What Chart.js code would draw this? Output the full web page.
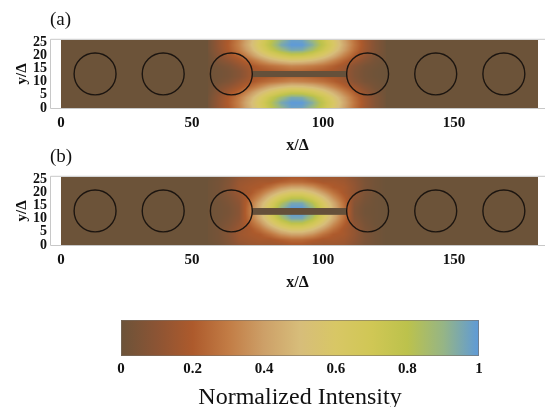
<!DOCTYPE html>
<html>
<head>
<meta charset="utf-8">
<script src="https://cdn.jsdelivr.net/npm/chart.js@4.4.0/dist/chart.umd.min.js"></script>
<style>
  body { margin: 0; background: #fff; }
  #wrap { position: relative; width: 545px; height: 407px; overflow: hidden; }
  .panel { position: absolute; left: 0; width: 545px; }
</style>
</head>
<body>
<div id="wrap">
  <div class="panel" style="top:0;height:155px"><canvas id="panelA"></canvas></div>
  <div class="panel" style="top:137px;height:155px"><canvas id="panelB"></canvas></div>
  <div class="panel" style="top:300px;height:107px"><canvas id="colorBar"></canvas></div>
</div>
<script>
// ---- data ----
const xTicks = [0, 50, 100, 150];
const yTicks = [0, 5, 10, 15, 20, 25];
const barTicks = [0, 0.2, 0.4, 0.6, 0.8, 1];
const barTickLabels = ['0', '0.2', '0.4', '0.6', '0.8', '1'];

// simulation domain (brown area)
const domainX = [0, 182];
const domainY = [0, 26];

// rods
const rodX = [13, 39, 65, 117, 143, 169];
const rodY = 13;
const rodRadius = 8;

// dark waveguide strip between the middle rods
const stripAX = [73, 109];
const stripAY = [11.8, 14.1];
const stripBX = [73, 109];
const stripBY = [11.5, 14.1];

// intensity samples (rows from top y=26 down to y=0), zero elsewhere
const gridX = [56, 60, 64, 68, 72, 76, 80, 84, 88, 92, 96, 100, 104, 108, 112, 116, 120, 124];
const gridY = [26, 24, 22, 20, 18, 16, 14, 12, 10, 8, 6, 4, 2, 0];

const intensityA = [
    [0.02,0.12,0.20,0.31,0.45,0.61,0.78,0.90,0.98,0.97,0.88,0.75,0.58,0.41,0.27,0.15,0.07,0.01],
    [0.02,0.12,0.21,0.32,0.47,0.64,0.81,0.95,1.00,1.00,0.93,0.78,0.61,0.43,0.28,0.16,0.07,0.01],
    [0.02,0.11,0.20,0.30,0.43,0.59,0.75,0.87,0.95,0.94,0.85,0.72,0.56,0.40,0.26,0.15,0.07,0.01],
    [0.01,0.09,0.16,0.24,0.35,0.48,0.60,0.69,0.75,0.74,0.68,0.58,0.45,0.32,0.21,0.12,0.05,0.01],
    [0.01,0.06,0.11,0.17,0.25,0.34,0.43,0.49,0.53,0.52,0.48,0.41,0.32,0.23,0.15,0.08,0.03,0.01],
    [0.01,0.03,0.06,0.12,0.18,0.23,0.27,0.30,0.33,0.32,0.30,0.27,0.22,0.16,0.09,0.04,0.02,0.00],
    [0.01,0.02,0.04,0.08,0.15,0.18,0.20,0.22,0.24,0.24,0.22,0.20,0.18,0.14,0.07,0.03,0.01,0.00],
    [0.01,0.02,0.04,0.08,0.15,0.18,0.20,0.22,0.24,0.24,0.22,0.20,0.18,0.14,0.07,0.03,0.01,0.00],
    [0.01,0.03,0.06,0.12,0.18,0.23,0.27,0.30,0.33,0.32,0.30,0.27,0.22,0.16,0.09,0.04,0.02,0.00],
    [0.01,0.06,0.11,0.17,0.25,0.34,0.43,0.49,0.53,0.52,0.48,0.41,0.32,0.23,0.15,0.08,0.03,0.01],
    [0.01,0.09,0.16,0.24,0.35,0.48,0.60,0.69,0.75,0.74,0.68,0.58,0.45,0.32,0.21,0.12,0.05,0.01],
    [0.02,0.11,0.20,0.30,0.43,0.59,0.75,0.87,0.95,0.94,0.85,0.72,0.56,0.40,0.26,0.15,0.07,0.01],
    [0.02,0.12,0.21,0.32,0.47,0.64,0.81,0.95,1.00,1.00,0.93,0.78,0.61,0.43,0.28,0.16,0.07,0.01],
    [0.02,0.12,0.20,0.31,0.45,0.61,0.78,0.90,0.98,0.97,0.88,0.75,0.58,0.41,0.27,0.15,0.07,0.01]
];

const intensityB = [
    [0.00,0.02,0.06,0.11,0.14,0.15,0.15,0.15,0.18,0.18,0.15,0.15,0.15,0.14,0.09,0.04,0.02,0.00],
    [0.01,0.03,0.07,0.14,0.16,0.18,0.18,0.22,0.25,0.25,0.22,0.18,0.18,0.16,0.11,0.05,0.02,0.00],
    [0.01,0.03,0.08,0.15,0.18,0.20,0.27,0.36,0.41,0.41,0.36,0.27,0.20,0.18,0.12,0.05,0.02,0.00],
    [0.01,0.03,0.08,0.14,0.18,0.27,0.39,0.51,0.59,0.59,0.51,0.39,0.27,0.18,0.12,0.05,0.02,0.00],
    [0.01,0.03,0.06,0.12,0.22,0.35,0.52,0.68,0.78,0.78,0.68,0.52,0.35,0.22,0.10,0.04,0.01,0.00],
    [0.01,0.02,0.05,0.10,0.26,0.43,0.62,0.82,0.95,0.95,0.82,0.62,0.43,0.26,0.08,0.03,0.01,0.00],
    [0.01,0.02,0.04,0.09,0.28,0.46,0.67,0.90,1.00,1.00,0.90,0.67,0.46,0.28,0.07,0.02,0.01,0.00],
    [0.01,0.02,0.04,0.09,0.28,0.46,0.67,0.90,1.00,1.00,0.90,0.67,0.46,0.28,0.07,0.02,0.01,0.00],
    [0.01,0.02,0.05,0.10,0.26,0.43,0.62,0.82,0.95,0.95,0.82,0.62,0.43,0.26,0.08,0.03,0.01,0.00],
    [0.01,0.03,0.06,0.12,0.22,0.35,0.52,0.68,0.78,0.78,0.68,0.52,0.35,0.22,0.10,0.04,0.01,0.00],
    [0.01,0.03,0.08,0.14,0.18,0.27,0.39,0.51,0.59,0.59,0.51,0.39,0.27,0.18,0.12,0.05,0.02,0.00],
    [0.01,0.03,0.08,0.15,0.18,0.20,0.27,0.36,0.41,0.41,0.36,0.27,0.20,0.18,0.12,0.05,0.02,0.00],
    [0.01,0.03,0.07,0.14,0.16,0.18,0.18,0.22,0.25,0.25,0.22,0.18,0.18,0.16,0.11,0.05,0.02,0.00],
    [0.00,0.02,0.06,0.11,0.14,0.15,0.15,0.15,0.18,0.18,0.15,0.15,0.15,0.14,0.09,0.04,0.02,0.00]
];

// colour map (from the colour bar)
const cmapStops = [0, 0.1, 0.2, 0.3, 0.4, 0.5, 0.6, 0.7, 0.8, 0.9, 1];
const cmapColors = ['#6c5339', '#8c5434', '#ad5a2c', '#c27c45', '#cda068', '#d7bd7a',
                    '#d8c765', '#d0c755', '#bcc24c', '#96b585', '#5e9ad8'];

Chart.defaults.font.family = '"Liberation Serif", "Times New Roman", serif';
Chart.defaults.color = '#111';
Chart.defaults.animation = false;

const hexToRgb = h => [parseInt(h.slice(1, 3), 16), parseInt(h.slice(3, 5), 16), parseInt(h.slice(5, 7), 16)];
const cmapRGB = cmapColors.map(hexToRgb);

function colorAt(v) {
    v = Math.max(0, Math.min(1, v));
    let k = 0;
    while (k < cmapStops.length - 2 && v > cmapStops[k + 1]) k++;
    const t = (v - cmapStops[k]) / (cmapStops[k + 1] - cmapStops[k]);
    const a = cmapRGB[k], b = cmapRGB[k + 1];
    return [a[0] + (b[0] - a[0]) * t, a[1] + (b[1] - a[1]) * t, a[2] + (b[2] - a[2]) * t];
}

// bilinear lookup in the sample grid
function sampleGrid(grid, x, y) {
    const nx = gridX.length, ny = gridY.length;
    if (x <= gridX[0] || x >= gridX[nx - 1]) return 0;
    let i = 0;
    while (i < nx - 2 && x > gridX[i + 1]) i++;
    let j = 0;
    while (j < ny - 2 && y < gridY[j + 1]) j++;
    const tx = (x - gridX[i]) / (gridX[i + 1] - gridX[i]);
    const ty = Math.max(0, Math.min(1, (gridY[j] - y) / (gridY[j] - gridY[j + 1])));
    const top = grid[j][i] + (grid[j][i + 1] - grid[j][i]) * tx;
    const bot = grid[j + 1][i] + (grid[j + 1][i + 1] - grid[j + 1][i]) * tx;
    return top + (bot - top) * ty;
}

const fieldPlugin = {
    id: 'field',
    beforeDatasetsDraw(chart, args, opts) {
        const {ctx, scales: {x, y}} = chart;
        const left = Math.round(x.getPixelForValue(domainX[0]));
        const right = Math.round(x.getPixelForValue(domainX[1]));
        const top = Math.round(y.getPixelForValue(domainY[1]));
        const bottom = Math.round(y.getPixelForValue(domainY[0]));
        const w = right - left, h = bottom - top;
        const off = document.createElement('canvas');
        off.width = w; off.height = h;
        const octx = off.getContext('2d');
        const img = octx.createImageData(w, h);
        for (let py = 0; py < h; py++) {
            const dy = y.getValueForPixel(top + py + 0.5);
            for (let px = 0; px < w; px++) {
                const dx = x.getValueForPixel(left + px + 0.5);
                const c = colorAt(sampleGrid(opts.grid, dx, dy));
                const k = (py * w + px) * 4;
                img.data[k] = c[0]; img.data[k + 1] = c[1]; img.data[k + 2] = c[2]; img.data[k + 3] = 255;
            }
        }
        octx.putImageData(img, 0, 0);
        ctx.drawImage(off, left, top);

        // waveguide strip
        const sx0 = x.getPixelForValue(opts.stripX[0]), sx1 = x.getPixelForValue(opts.stripX[1]);
        const sy0 = y.getPixelForValue(opts.stripY[1]), sy1 = y.getPixelForValue(opts.stripY[0]);
        ctx.fillStyle = '#65503a';
        ctx.fillRect(sx0, sy0, sx1 - sx0, sy1 - sy0);
    }
};

const framePlugin = {
    id: 'frame',
    afterDraw(chart) {
        const {ctx, chartArea: a, width} = chart;
        ctx.save();
        ctx.strokeStyle = '#c8c8c8';
        ctx.lineWidth = 1;
        ctx.beginPath();
        ctx.moveTo(width, a.top - 0.5); ctx.lineTo(a.left + 0.5, a.top - 0.5);
        ctx.lineTo(a.left + 0.5, a.bottom + 0.5); ctx.lineTo(width, a.bottom + 0.5);
        ctx.stroke();
        ctx.restore();
    }
};

function rodPixelRadius(chart) {
    const s = chart.scales.x;
    return Math.abs(s.getPixelForValue(rodRadius) - s.getPixelForValue(0));
}

function makePanel(id, title, grid, stripX, stripY) {
    return new Chart(document.getElementById(id), {
        type: 'scatter',
        data: {
            datasets: [{
                data: rodX.map(v => ({x: v, y: rodY})),
                pointRadius: c => rodPixelRadius(c.chart),
                pointHoverRadius: c => rodPixelRadius(c.chart),
                pointBorderColor: '#1c1510',
                pointBorderWidth: 1.4,
                pointBackgroundColor: 'rgba(0,0,0,0)'
            }]
        },
        options: {
            responsive: true,
            maintainAspectRatio: false,
            layout: {padding: 0},
            plugins: {
                legend: {display: false},
                tooltip: {enabled: false},
                title: {
                    display: true,
                    text: title,
                    align: 'start',
                    fullSize: false,
                    font: {size: 19, weight: 'normal'},
                    padding: {top: 9, bottom: 8}
                },
                field: {grid: grid, stripX: stripX, stripY: stripY}
            },
            scales: {
                x: {
                    type: 'linear',
                    min: -4.2,
                    max: 184.7,
                    afterBuildTicks: s => { s.ticks = xTicks.map(v => ({value: v})); },
                    afterFit: s => { s.height = 47; },
                    grid: {display: false, drawTicks: false},
                    border: {display: false},
                    ticks: {font: {size: 15, weight: 'bold'}, padding: 6, maxRotation: 0},
                    title: {display: true, text: 'x/Δ', font: {size: 16, weight: 'bold'}, padding: {top: 0, bottom: 0}}
                },
                y: {
                    type: 'linear',
                    min: domainY[0],
                    max: domainY[1],
                    afterBuildTicks: s => { s.ticks = yTicks.map(v => ({value: v})); },
                    afterFit: s => { s.width = 50; },
                    grid: {display: false, drawTicks: false},
                    border: {display: false},
                    ticks: {font: {size: 14, weight: 'bold'}, padding: 3, autoSkip: false},
                    title: {display: true, text: 'y/Δ', font: {size: 15, weight: 'bold'}, padding: {top: 13, bottom: 0}}
                }
            }
        },
        plugins: [fieldPlugin, framePlugin]
    });
}

makePanel('panelA', '(a)', intensityA, stripAX, stripAY);
makePanel('panelB', '(b)', intensityB, stripBX, stripBY);

const gradientPlugin = {
    id: 'gradientBar',
    beforeDatasetsDraw(chart) {
        const {ctx, chartArea: a, scales: {x}} = chart;
        const x0 = x.getPixelForValue(0), x1 = x.getPixelForValue(1);
        const g = ctx.createLinearGradient(x0, 0, x1, 0);
        cmapStops.forEach((s, i) => g.addColorStop(s, cmapColors[i]));
        ctx.fillStyle = g;
        ctx.fillRect(x0, a.top, x1 - x0, a.bottom - a.top);
        ctx.strokeStyle = 'rgba(120,110,100,0.6)';
        ctx.lineWidth = 1;
        ctx.strokeRect(x0 + 0.5, a.top + 0.5, x1 - x0 - 1, a.bottom - a.top - 1);
    }
};

new Chart(document.getElementById('colorBar'), {
    type: 'scatter',
    data: {datasets: []},
    options: {
        responsive: true,
        maintainAspectRatio: false,
        layout: {padding: {left: 121, right: 66, top: 20, bottom: 0}},
        plugins: {legend: {display: false}, tooltip: {enabled: false}},
        scales: {
            x: {
                type: 'linear',
                min: 0,
                max: 1,
                afterBuildTicks: s => { s.ticks = barTicks.map(v => ({value: v})); },
                afterFit: s => { s.height = 51; },
                grid: {display: false, drawTicks: false},
                border: {display: false},
                ticks: {
                    font: {size: 15, weight: 'bold'},
                    padding: 4,
                    maxRotation: 0,
                    callback: (v, i) => barTickLabels[i]
                },
                title: {display: true, text: 'Normalized Intensity', font: {size: 24, weight: 'normal', lineHeight: 1}, padding: {top: 0, bottom: -3}}
            },
            y: {display: false, min: 0, max: 1}
        }
    },
    plugins: [gradientPlugin]
});
</script>
</body>
</html>
